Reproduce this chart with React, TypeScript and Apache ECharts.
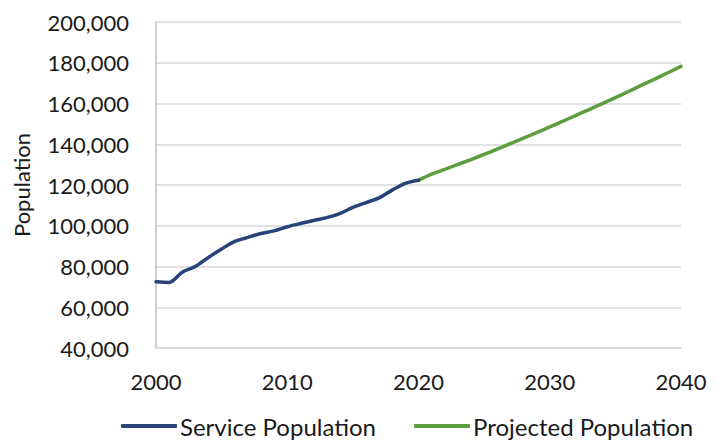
import React, { useEffect, useRef } from "react";
import * as echarts from "echarts";

const serviceYears = [2000, 2001, 2002, 2003, 2004, 2005, 2006, 2007, 2008, 2009, 2010, 2011, 2012, 2013, 2014, 2015, 2016, 2017, 2018, 2019, 2020];
const servicePopulation = [72500, 72200, 77200, 80000, 84500, 88600, 92300, 94300, 96200, 97500, 99500, 101100, 102600, 104000, 106000, 109000, 111400, 113700, 117500, 120800, 122300];

const projectedYears = [2020, 2021, 2022, 2023, 2024, 2025, 2026, 2027, 2028, 2029, 2030, 2031, 2032, 2033, 2034, 2035, 2036, 2037, 2038, 2039, 2040];
const projectedPopulation = [122300, 125300, 127700, 130100, 132500, 135000, 137600, 140300, 143000, 145700, 148500, 151300, 154200, 157000, 159900, 162900, 165900, 169000, 172000, 175100, 178200];

const FONT = "Lato, 'Open Sans', sans-serif";
const TEXT = "#1a1a1a";
const BLUE = "#27437a";
const GREEN = "#5e9d3e";

export default function App() {
  const ref = useRef<HTMLDivElement>(null);

  useEffect(() => {
    if (!ref.current) return;
    const chart = echarts.init(ref.current, undefined, { renderer: "svg" });
    chart.setOption({
      animation: false,
      textStyle: { fontFamily: FONT },
      grid: { left: 156, right: 36, top: 22, bottom: 97, containLabel: false },
      legend: {
        top: 414,
        left: 121,
        padding: 0,
        icon: "roundRect",
        itemWidth: 56,
        itemHeight: 4,
        itemGap: 38,
        textStyle: { fontFamily: FONT, fontSize: 24, color: TEXT, padding: [0, 0, 0, -2] },
        data: ["Service Population", "Projected Population"],
      },
      xAxis: {
        type: "value",
        min: 2000,
        max: 2040,
        interval: 10,
        axisLine: { show: true, lineStyle: { color: "#d9d9d9", width: 1.5 } },
        axisTick: { show: false },
        splitLine: { show: false },
        axisLabel: {
          margin: 22,
          fontFamily: FONT,
          fontSize: 22,
          color: TEXT,
          formatter: (v: number) => String(v),
        },
      },
      yAxis: {
        type: "value",
        min: 40000,
        max: 200000,
        interval: 20000,
        name: "Population",
        nameLocation: "middle",
        nameGap: 124,
        nameTextStyle: { fontFamily: FONT, fontSize: 22, color: TEXT },
        axisLine: { show: true, lineStyle: { color: "#bfbfbf", width: 1.5 } },
        axisTick: { show: false },
        splitLine: { lineStyle: { color: "#d9d9d9", width: 1.5 } },
        axisLabel: {
          margin: 27,
          fontFamily: FONT,
          fontSize: 22,
          color: TEXT,
          formatter: (v: number) => v.toLocaleString("en-US"),
        },
      },
      series: [
        {
          name: "Service Population",
          type: "line",
          smooth: 0.3,
          symbol: "none",
          lineStyle: { color: BLUE, width: 3.5, cap: "round" },
          itemStyle: { color: BLUE },
          data: serviceYears.map((y, i) => [y, servicePopulation[i]]),
          z: 3,
        },
        {
          name: "Projected Population",
          type: "line",
          smooth: 0.3,
          symbol: "none",
          lineStyle: { color: GREEN, width: 3.5, cap: "round" },
          itemStyle: { color: GREEN },
          data: projectedYears.map((y, i) => [y, projectedPopulation[i]]),
          z: 2,
        },
      ],
    });
    return () => chart.dispose();
  }, []);

  return <div ref={ref} style={{ width: 717, height: 445, position: "absolute", left: 0, top: 0, background: "#fff" }} />;
}
